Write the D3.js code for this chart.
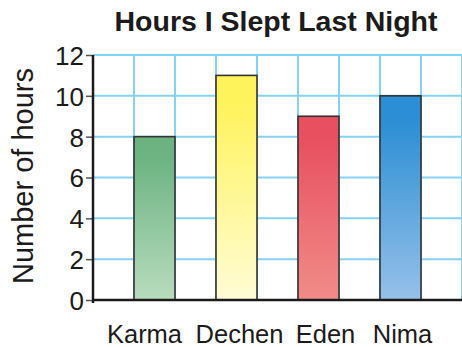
<!DOCTYPE html>
<html>
<head>
<meta charset="utf-8">
<script src="https://cdn.jsdelivr.net/npm/d3@7"></script>
<style>
  html, body { margin: 0; padding: 0; background: #fff; }
  svg { display: block; }
  text { font-family: "Liberation Sans", Arial, Helvetica, sans-serif; fill: #1c1a1b; }
</style>
</head>
<body>
<svg id="chart" width="462" height="347"></svg>
<script>
// Hours slept per child
const names = ["Karma", "Dechen", "Eden", "Nima"];
const hours = [8, 11, 9, 10];
const yTicks = [0, 2, 4, 6, 8, 10, 12];
// gradient stops (top colour, bottom colour) for each bar
const topColors = ["#6cb381", "#fff35c", "#e8505f", "#2c8ed4"];
const bottomColors = ["#b8dcbe", "#fffcd6", "#f18c88", "#96c1e9"];

const plotLeft = 93, plotRight = 462, plotTop = 55, plotBottom = 300;

const svg = d3.select("#chart");

const x = d3.scaleBand()
  .domain(names)
  .range([plotLeft, plotRight])
  .paddingInner(0.5)
  .paddingOuter(0.5);

const y = d3.scaleLinear().domain([0, 12]).range([plotBottom, plotTop]);

// gradients
const defs = svg.append("defs");
names.forEach((n, i) => {
  const g = defs.append("linearGradient")
    .attr("id", "grad" + i)
    .attr("x1", 0).attr("y1", 0).attr("x2", 0).attr("y2", 1);
  g.append("stop").attr("offset", "0%").attr("stop-color", topColors[i]);
  g.append("stop").attr("offset", "12%").attr("stop-color", topColors[i]);
  g.append("stop").attr("offset", "100%").attr("stop-color", bottomColors[i]);
});

const gridColor = "#86d2f5";

// horizontal grid
svg.append("g")
  .selectAll("line")
  .data(yTicks.filter(t => t > 0))
  .join("line")
  .attr("x1", plotLeft).attr("x2", plotRight)
  .attr("y1", d => y(d)).attr("y2", d => y(d))
  .attr("stroke", gridColor)
  .attr("stroke-width", 2);

// vertical grid at every half step
const half = x.step() / 2;
const vCount = Math.round((plotRight - plotLeft) / half);
svg.append("g")
  .selectAll("line")
  .data(d3.range(1, vCount + 1))
  .join("line")
  .attr("x1", k => plotLeft + k * half).attr("x2", k => plotLeft + k * half)
  .attr("y1", y(12)).attr("y2", y(0))
  .attr("stroke", gridColor)
  .attr("stroke-width", 2);

// bars
svg.append("g")
  .selectAll("rect")
  .data(names)
  .join("rect")
  .attr("x", d => x(d))
  .attr("width", x.bandwidth())
  .attr("y", (d, i) => y(hours[i]))
  .attr("height", (d, i) => y(0) - y(hours[i]))
  .attr("fill", (d, i) => `url(#grad${i})`)
  .attr("stroke", "#333")
  .attr("stroke-width", 1.6);

// y axis
const yAxis = d3.axisLeft(y).tickValues(yTicks).tickSize(7).tickPadding(2);
const gy = svg.append("g")
  .attr("transform", `translate(${plotLeft},0)`)
  .call(yAxis);
gy.select(".domain").remove();
gy.selectAll(".tick line").attr("stroke", "#555").attr("stroke-width", 1.5);
gy.selectAll(".tick text")
  .attr("font-size", 26)
  .attr("font-family", "Liberation Sans, Arial, sans-serif")
  .attr("fill", "#1c1a1b")
  .attr("dy", "0.36em");

// axis lines
svg.append("line")
  .attr("x1", plotLeft).attr("x2", plotLeft)
  .attr("y1", y(12)).attr("y2", y(0) + 3)
  .attr("stroke", "#1c1a1b").attr("stroke-width", 2.5);
svg.append("line")
  .attr("x1", plotLeft - 1).attr("x2", plotRight)
  .attr("y1", y(0)).attr("y2", y(0))
  .attr("stroke", "#1c1a1b").attr("stroke-width", 2.5);

// category labels
const labelShift = [-10, 3, 7, 2];
svg.append("g")
  .selectAll("text")
  .data(names)
  .join("text")
  .attr("x", (d, i) => x(d) + x.bandwidth() / 2 + labelShift[i])
  .attr("y", 343)
  .attr("text-anchor", "middle")
  .attr("font-size", 25.5)
  .text(d => d);

// y axis title
svg.append("text")
  .attr("transform", "translate(33,176) rotate(-90)")
  .attr("text-anchor", "middle")
  .attr("font-size", 29)
  .text("Number of hours");

// chart title
svg.append("text")
  .attr("x", 276)
  .attr("y", 31)
  .attr("text-anchor", "middle")
  .attr("font-size", 28.5)
  .attr("font-weight", "bold")
  .text("Hours I Slept Last Night");
</script>
</body>
</html>
